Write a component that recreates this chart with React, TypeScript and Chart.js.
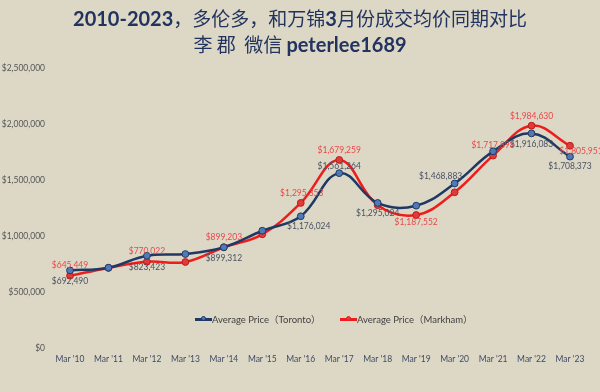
import React, { useEffect, useRef } from "react";
import { Chart, registerables } from "chart.js";

Chart.register(...registerables);

const categories = ["Mar '10", "Mar '11", "Mar '12", "Mar '13", "Mar '14", "Mar '15", "Mar '16", "Mar '17", "Mar '18", "Mar '19", "Mar '20", "Mar '21", "Mar '22", "Mar '23"];
const torontoValues = [692490, 717000, 823423, 839000, 899312, 1047000, 1176024, 1561264, 1295024, 1270500, 1468883, 1756000, 1916083, 1708373];
const markhamValues = [645449, 715000, 770022, 768000, 899203, 1015000, 1295353, 1679259, 1275000, 1187552, 1390000, 1717898, 1984630, 1805951];
const torontoName = "Average Price（Toronto）";
const markhamName = "Average Price（Markham）";
const yTicks = [0, 500000, 1000000, 1500000, 2000000, 2500000];

// which points carry a value label, and where the label sits relative to the point
const torontoLabelPlacement: (null | [number, number])[] = [
  [0, 11], null, [0, 11], null, [0, 11], null, [8, 10], [0, -7], [0, 10], null, [-14, -7], null, [0, 11], [0, 10],
];
const markhamLabelPlacement: (null | [number, number])[] = [
  [0, -10], null, [0, -10], null, [0, -10], null, [1, -10], [0, -9.5], null, [0, 7], null, [0, -10], [0, -9.5], [11, 6],
];

const fmt = (v: number) => "$" + Math.round(v).toLocaleString("en-US");

const BG = "#ddd8c5";
const NAVY = "#1f3864";
const RED = "#ee1c1c";

const valueLabelPlugin = {
  id: "valueLabels",
  afterDatasetsDraw(chart: any) {
    const ctx = chart.ctx;
    const sets = [
      { placement: torontoLabelPlacement, color: "#4a5263" },
      { placement: markhamLabelPlacement, color: "#e8484a" },
    ];
    ctx.save();
    ctx.font = "8.5px Lato, 'Noto Sans', sans-serif";
    ctx.textAlign = "center";
    ctx.textBaseline = "middle";
    sets.forEach((s, di) => {
      const meta = chart.getDatasetMeta(di);
      const values = chart.data.datasets[di].data as number[];
      meta.data.forEach((pt: any, i: number) => {
        const p = s.placement[i];
        if (!p) return;
        ctx.fillStyle = s.color;
        ctx.fillText(fmt(values[i]), pt.x + p[0], pt.y + p[1]);
      });
    });
    ctx.restore();
  },
};

const LATIN: React.CSSProperties = { fontFamily: "Lato, 'Noto Sans', sans-serif", fontWeight: 700, fontSize: 20 };

export default function App() {
  const ref = useRef<HTMLCanvasElement | null>(null);

  useEffect(() => {
    document.body.style.margin = "0";
    document.body.style.background = BG;
    const chart = new Chart(ref.current as HTMLCanvasElement, {
      type: "line",
      data: {
        labels: categories,
        datasets: [
          {
            label: torontoName,
            data: torontoValues,
            borderColor: NAVY,
            backgroundColor: "#4f7ab8",
            pointBorderColor: NAVY,
            pointBackgroundColor: "#4f7ab8",
            borderWidth: 2.5,
            pointRadius: 3.4,
            pointBorderWidth: 1,
            tension: 0.4,
            fill: false,
          },
          {
            label: markhamName,
            data: markhamValues,
            borderColor: RED,
            backgroundColor: "#e03a3a",
            pointBorderColor: "#c01818",
            pointBackgroundColor: "#e03a3a",
            borderWidth: 2.5,
            pointRadius: 3.4,
            pointBorderWidth: 1,
            tension: 0.4,
            fill: false,
          },
        ],
      },
      options: {
        responsive: false,
        animation: false,
        devicePixelRatio: 1,
        layout: { padding: { top: 68, right: 30, bottom: 0, left: 0 } },
        plugins: {
          legend: { display: false },
          title: { display: false },
          tooltip: { enabled: false },
        },
        scales: {
          x: {
            type: "category",
            offset: false,
            grid: { display: false, drawTicks: false },
            border: { display: false },
            ticks: {
              color: "#3f4a66",
              font: { family: "Lato, 'Noto Sans', sans-serif", size: 8.5 },
              padding: 6,
              maxRotation: 0,
              autoSkip: false,
            },
            afterFit: (s: any) => {
              s.height = 44;
            },
          },
          y: {
            min: 0,
            max: 2500000,
            grid: { display: false, drawTicks: false },
            border: { display: false },
            afterBuildTicks: (s: any) => {
              s.ticks = yTicks.map((v) => ({ value: v }));
            },
            ticks: {
              color: "#555555",
              font: { family: "Lato, 'Noto Sans', sans-serif", size: 8.5 },
              padding: 25,
              callback: (v: any) => fmt(Number(v)),
            },
            afterFit: (s: any) => {
              s.width = 70;
            },
          },
        },
      },
      plugins: [valueLabelPlugin],
    } as any);
    return () => chart.destroy();
  }, []);

  const legendItem = (left: number, color: string, fill: string, text: string) => (
    <div style={{ position: "absolute", left, top: 312, height: 14, display: "flex", alignItems: "center" }}>
      <div style={{ position: "relative", width: 17, height: 14 }}>
        <div style={{ position: "absolute", left: 0, top: 6, width: 17, height: 2.5, background: color }} />
        <div style={{ position: "absolute", left: 5.5, top: 4, width: 5, height: 5, borderRadius: "50%", background: fill, border: `1px solid ${color}`, boxSizing: "border-box" }} />
      </div>
      <span style={{ fontFamily: "Lato, 'Noto Sans CJK SC', sans-serif", fontSize: 9.5, color: "#404040", whiteSpace: "nowrap" }}>{text}</span>
    </div>
  );

  return (
    <div style={{ position: "absolute", left: 0, top: 0, width: 600, height: 392, background: BG, overflow: "hidden" }}>
      <canvas ref={ref} width={600} height={392} style={{ position: "absolute", left: 0, top: 0 }} />
      <div style={{ position: "absolute", left: 0, top: 5, width: 600, textAlign: "center", fontFamily: "'Noto Sans CJK SC', sans-serif", fontWeight: 400, fontSize: 19, lineHeight: "26px", color: "#22335f", whiteSpace: "nowrap" }}>
        <div>
          <span style={LATIN}>2010-2023</span>，多伦多，和万锦<span style={LATIN}>3</span>月份成交均价同期对比
        </div>
        <div>
          李 郡&nbsp;&nbsp;微信 <span style={LATIN}>peterlee1689</span>
        </div>
      </div>
      {legendItem(195, NAVY, "#4f7ab8", torontoName)}
      {legendItem(340, RED, "#e03a3a", markhamName)}
    </div>
  );
}
